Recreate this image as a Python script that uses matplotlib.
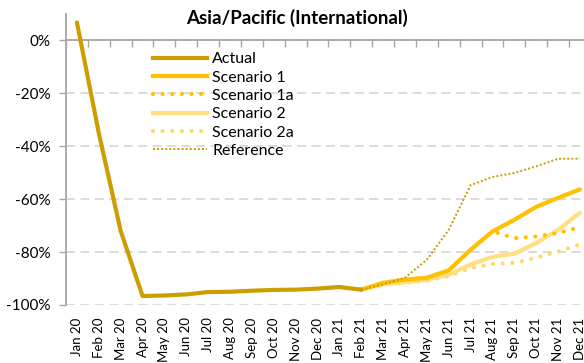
import matplotlib
matplotlib.use("Agg")
import matplotlib.pyplot as plt
import numpy as np
from matplotlib.lines import Line2D

plt.rcParams['font.family'] = ['Lato', 'DejaVu Sans']

months = ["Jan 20", "Feb 20", "Mar 20", "Apr 20", "May 20", "Jun 20", "Jul 20", "Aug 20",
          "Sep 20", "Oct 20", "Nov 20", "Dec 20", "Jan 21", "Feb 21", "Mar 21", "Apr 21",
          "May 21", "Jun 21", "Jul 21", "Aug 21", "Sep 21", "Oct 21", "Nov 21", "Dec 21"]

actual = [6.8, -35.0, -72.0, -96.6, -96.4, -96.0, -95.1, -95.0, -94.6, -94.3, -94.2, -93.8, -93.2, -94.2]

# forecasts start at Feb 21 (index 13)
scen1 = [-94.2, -91.6, -90.4, -89.7, -86.9, -79.1, -72.2, -67.8, -62.9, -59.5, -56.3]
scen1a = [-94.2, -91.6, -90.4, -89.7, -86.9, -79.1, -72.2, -74.7, -74.1, -72.8, -70.6]
scen2 = [-94.2, -92.2, -91.4, -90.4, -88.5, -84.7, -81.8, -80.6, -76.6, -71.6, -65.1]
scen2a = [-94.2, -92.4, -91.6, -90.8, -89.1, -86.1, -84.5, -84.1, -82.1, -79.8, -77.1]
reference = [-94.2, -92.2, -89.7, -82.9, -71.6, -54.7, -51.6, -50.1, -47.6, -44.7, -44.7]

yticks = [0, -20, -40, -60, -80, -100]

W, H = 584, 363
fig = plt.figure(figsize=(W / 100, H / 100), dpi=100)
ax = fig.add_axes([66 / W, 1 - 305 / H, 24 * 21.87 / W, (305 - 14) / H])

x_act = np.arange(len(actual))
x_fc = np.arange(13, 13 + len(scen1))

c_act = '#CC9E00'
c_s1 = '#FFC000'
c_s2 = '#FFDF80'
c_s2a = '#FFD966'
c_ref = '#C99A00'

dot = (0, (0.01, 2.3))
refdot = (0, (1, 1.1))
ax.plot(x_fc, np.array(reference) / 100, color=c_ref, lw=1.4, ls=refdot, zorder=7)
ax.plot(x_fc, np.array(scen2a) / 100, color=c_s2a, lw=3.0, ls=dot, dash_capstyle='round', zorder=3)
ax.plot(x_fc, np.array(scen2) / 100, color=c_s2, lw=3.0, solid_capstyle='round', zorder=4)
ax.plot(x_fc, np.array(scen1a) / 100, color=c_s1, lw=3.0, ls=dot, dash_capstyle='round', zorder=4)
ax.plot(x_fc, np.array(scen1) / 100, color=c_s1, lw=3.0, solid_capstyle='round', zorder=5)
ax.plot(x_act, np.array(actual) / 100, color=c_act, lw=3.0, solid_capstyle='round', zorder=6)

ax.set_xlim(-0.5, 23.5)
ax.set_ylim(-1.0, 0.1)

# y axis
ax.set_yticks(np.array(yticks) / 100)
ax.set_yticklabels([f"{v}%" for v in yticks])
ax.tick_params(axis='y', direction='out', length=5, width=1, color='#A6A6A6',
               labelsize=11, pad=6, labelcolor='#000000')
ax.yaxis.grid(True, color='#D9D9D9', lw=1.3, ls=(0, (5, 3)))
ax.set_axisbelow(True)

# x axis: labels at bottom, tick marks on the 0% line
ax.set_xticks(np.arange(24))
ax.set_xticklabels(months)
ax.set_xticks(np.arange(-0.5, 24, 1), minor=True)
ax.tick_params(axis='x', which='major', bottom=True, top=False, length=0,
               labelsize=9.5, pad=9, labelrotation=90)
ax.tick_params(axis='x', which='minor', bottom=False, top=True, direction='in',
               length=5, width=1, color='#A6A6A6')
for lab in ax.get_xticklabels():
    lab.set_va('top')
    lab.set_ha('center')

for s in ['right', 'bottom']:
    ax.spines[s].set_visible(False)
ax.spines['top'].set_position(('data', 0))
ax.spines['top'].set_color('#A6A6A6')
ax.spines['top'].set_linewidth(1.3)
ax.spines['left'].set_color('#A6A6A6')
ax.spines['left'].set_linewidth(1.3)

# legend
handles = [
    Line2D([], [], color=c_act, lw=3.0),
    Line2D([], [], color=c_s1, lw=3.0),
    Line2D([], [], color=c_s1, lw=3.0, ls=dot, dash_capstyle='round'),
    Line2D([], [], color=c_s2, lw=3.0),
    Line2D([], [], color=c_s2a, lw=3.0, ls=dot, dash_capstyle='round'),
    Line2D([], [], color=c_ref, lw=1.4, ls=refdot),
]
labels = ["Actual", "Scenario 1", "Scenario 1a", "Scenario 2", "Scenario 2a", "Reference"]
fig.legend(handles, labels, loc='upper left', bbox_to_anchor=(153 / W, 1 - 52 / H),
           frameon=False, fontsize=11.5, handlelength=3.4, handletextpad=0.3,
           labelspacing=0.26, borderpad=0, borderaxespad=0)

fig.text(297 / W, 1 - 18 / H, "Asia/Pacific (International)", ha='center', va='center',
         fontsize=13.5, fontweight='bold')

fig.savefig("out.png", dpi=100)
